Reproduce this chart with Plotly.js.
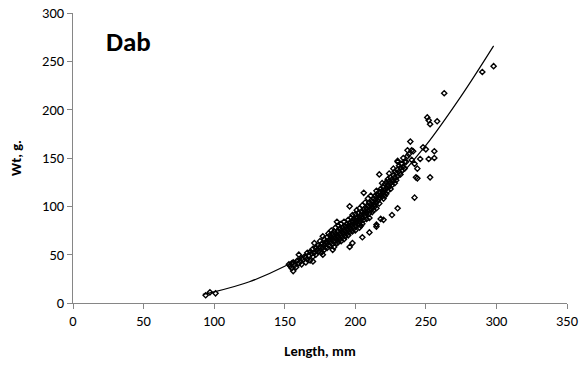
<!DOCTYPE html>
<html>
<head>
<meta charset="utf-8">
<script src="https://cdn.plot.ly/plotly-3.0.1.min.js"></script>
<style>html,body{margin:0;padding:0;background:#fff;}#chart{width:586px;height:369px;}</style>
</head>
<body>
<div id="chart"></div>
<script>
// Length (mm), weight (g) pairs
var smallFish = [[94,8],[97,11],[101,10]];
var mainCluster = [
[153,40],[154,38],[155,36],[155,41],[156,33],[156,42],[157,39],[158,37],[159,44],[160,50],[160,41],[161,43],[162,40],[162,46],[163,45],[164,48],[165,42],[165,47],[166,52],[166,45],[167,49],[168,44],[168,53],[169,51],[170,48],[170,43],[170,56],[171,62],[171,52],[172,50],[172,57],[173,55],[174,53],[174,60],[175,58],[175,64],[176,52],[176,61],[177,69],[177,57],[177,50],
[178,60],[178,55],[178,66],[179,63],[179,58],[180,62],[180,68],[180,57],[181,64],[181,72],[181,60],[182,66],[182,70],[182,59],[183,63],[183,68],[183,75],[184,61],[184,66],[184,71],[184,55],[185,69],[185,64],[185,74],[185,58],[186,67],[186,72],[186,78],[187,70],[187,65],[187,62],[187,84],[188,74],[188,68],[188,80],[188,63],[189,72],[189,77],[189,66],[190,70],[190,75],[190,82],[190,64],
[191,73],[191,68],[191,78],[192,76],[192,71],[192,84],[192,66],[193,79],[193,74],[193,69],[194,77],[194,82],[194,72],[195,80],[195,75],[195,86],[195,70],[196,78],[196,83],[196,73],[196,58],[196,100],[197,81],[197,88],[197,76],[198,84],[198,79],[198,91],[198,74],[198,62],[199,82],[199,87],[199,77],[200,85],[200,80],[200,92],[200,75],
[201,88],[201,83],[201,96],[202,86],[202,81],[202,93],[203,89],[203,84],[203,98],[203,78],[204,91],[204,86],[204,80],[205,94],[205,88],[205,101],[205,82],[205,68],[206,92],[206,97],[206,86],[206,114],[207,95],[207,90],[207,104],[208,98],[208,93],[208,87],[209,100],[209,95],[209,108],[210,99],[210,93],[210,104],[210,88],[210,73],
[211,102],[211,97],[211,111],[212,105],[212,99],[212,94],[213,108],[213,102],[213,96],[214,106],[214,111],[214,100],[215,109],[215,104],[215,116],[215,98],[215,81],[215,79],[216,112],[216,106],[217,115],[217,109],[217,103],[217,133],[218,118],[218,112],[218,87],[219,116],[219,110],[219,124],[220,114],[220,120],[220,108],[220,86],
[221,117],[221,123],[221,111],[222,125],[222,119],[222,113],[223,122],[223,128],[223,116],[224,126],[224,120],[224,134],[225,124],[225,130],[225,118],[226,91],[226,128],[226,122],[227,132],[227,126],[227,139],[228,130],[228,136],[228,124],[229,134],[229,127],[230,98],[230,147],[230,138],[230,131],[230,146],
[231,136],[231,142],[232,140],[232,133],[233,144],[233,137],[234,150],[234,141],[235,146],[235,139],[236,146],[237,158],[237,152],[238,154],[239,167],[240,158],[240,148],[241,157],[242,109],[242,144],[243,130],[244,139],[244,129],[246,149],[248,161],[250,159],[252,149],[253,130],[256,157],[256,150]
];
var largeFish = [[251,192],[252,189],[253,185],[258,188],[263,217],[290,239],[298,245]];

// Fitted curve
var fitLength = [92, 100, 125, 150, 175, 200, 225, 250, 275, 298];
var fitWeight = [9, 11.5, 22, 38, 59, 86, 121, 163, 214, 266];

var xTicks = [0, 50, 100, 150, 200, 250, 300, 350];
var yTicks = [0, 50, 100, 150, 200, 250, 300];

var allPts = smallFish.concat(mainCluster, largeFish);
var ptsX = allPts.map(function(p){return p[0];});
var ptsY = allPts.map(function(p){return p[1];});

var FONT = 'Calibri, Carlito, Lato, "Open Sans", sans-serif';
var data = [
  {x: ptsX, y: ptsY, type: 'scatter', mode: 'markers', hoverinfo: 'skip',
   marker: {symbol: 'diamond-open', size: 4, color: '#000', line: {width: 1.4, color: '#000'}}},
  {x: fitLength, y: fitWeight, type: 'scatter', mode: 'lines', hoverinfo: 'skip',
   line: {color: '#000', width: 1.2, shape: 'spline'}}
];
var layout = {
  width: 586, height: 369,
  margin: {l: 73, r: 19, t: 13, b: 66},
  paper_bgcolor: '#fff', plot_bgcolor: '#fff',
  showlegend: false,
  font: {family: FONT, size: 14, color: '#000'},
  xaxis: {range: [0, 350], tickvals: xTicks, ticktext: xTicks.map(String),
    showgrid: false, zeroline: false, showline: true, linecolor: '#868686', linewidth: 1,
    ticks: 'outside', ticklen: 5, tickcolor: '#868686',
    tickfont: {family: FONT, size: 14.5, color: '#000'},
    title: {text: '<b>Length, mm</b>', font: {family: FONT, size: 14.5, color: '#000'}, standoff: 16}},
  yaxis: {range: [0, 300], tickvals: yTicks, ticktext: yTicks.map(String),
    showgrid: false, zeroline: false, showline: true, linecolor: '#868686', linewidth: 1,
    ticks: 'outside', ticklen: 5, tickcolor: '#868686',
    tickfont: {family: FONT, size: 14.5, color: '#000'},
    title: {text: '<b>Wt, g.</b>', font: {family: FONT, size: 14.5, color: '#000'}, standoff: 16}},
  annotations: [{text: '<b>Dab</b>', xref: 'paper', yref: 'paper', x: 0.063, y: 0.9,
    xanchor: 'left', yanchor: 'middle', showarrow: false,
    font: {family: FONT, size: 27, color: '#000'}}]
};
Plotly.newPlot('chart', data, layout, {displayModeBar: false, staticPlot: true});
</script>
</body>
</html>
